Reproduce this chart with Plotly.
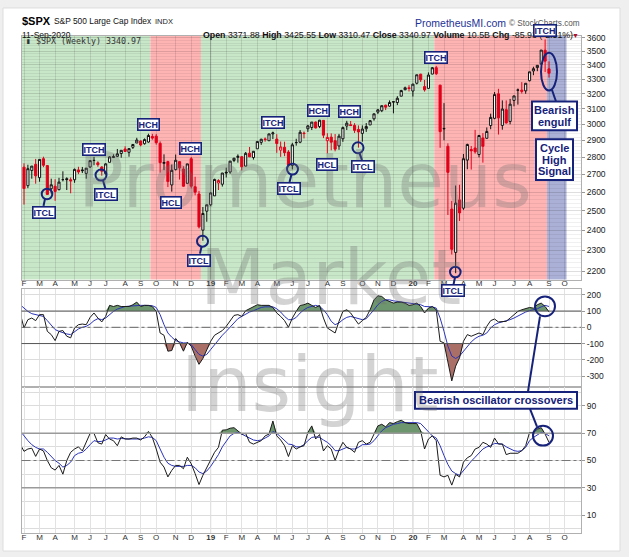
import math
import pandas as pd
import plotly.graph_objects as go

W, H = 629, 557


def px(x):
    return x / W


def py(y):
    return 1 - y / H


# ---------------- data ----------------
FIRST_WEEK = "2018-02-05"
N_BARS = 136
dates = pd.date_range(FIRST_WEEK, periods=N_BARS, freq="7D")
osc_dates = pd.date_range("2018-01-29", periods=N_BARS + 1, freq="7D")
PREV_CLOSE = 2762.13

opens = [2741, 2636, 2722, 2757, 2681, 2790, 2750, 2619, 2633, 2614,
         2670, 2675, 2669, 2669, 2725, 2725, 2705, 2742, 2780, 2766,
         2742, 2704, 2769, 2797, 2804, 2821, 2848, 2828, 2858, 2884,
         2896, 2880, 2890, 2924, 2926, 2882, 2763, 2773, 2640, 2727,
         2773, 2730, 2649, 2790, 2630, 2590, 2400, 2498, 2532, 2580,
         2651, 2644, 2712, 2713, 2780, 2798, 2802, 2747, 2823, 2797,
         2849, 2888, 2909, 2898, 2940, 2908, 2841, 2858, 2830, 2751,
         2886, 2889, 2945, 2972, 2980, 3014, 2986, 3025, 2898, 2920,
         2898, 2866, 2910, 2989, 2997, 2993, 2968, 2943, 2972, 2996,
         3035, 3078, 3087, 3123, 3117, 3144, 3141, 3183, 3227, 3240,
         3218, 3271, 3334, 3248, 3236, 3335, 3380, 3258, 2974, 2864,
         2509, 2290, 2558, 2514, 2782, 2845, 2854, 2815, 2915, 2913,
         2992, 3038, 3199, 2993, 3094, 3018, 3155, 3225, 3224, 3219,
         3289, 3357, 3381, 3406, 3507, 3371.88]
highs = [2763, 2755, 2747, 2789, 2787, 2802, 2753, 2675, 2672, 2680,
         2717, 2683, 2682, 2733, 2743, 2742, 2736, 2780, 2801, 2775,
         2746, 2764, 2804, 2816, 2848, 2841, 2864, 2853, 2876, 2916,
         2900, 2912, 2941, 2940, 2939, 2894, 2816, 2778, 2756, 2815,
         2775, 2746, 2760, 2800, 2686, 2607, 2520, 2532, 2598, 2675,
         2672, 2708, 2738, 2776, 2795, 2816, 2804, 2830, 2860, 2836,
         2893, 2910, 2918, 2940, 2954, 2938, 2893, 2892, 2841, 2885,
         2910, 2964, 2955, 2995, 3014, 3018, 3028, 3027, 2944, 2943,
         2939, 2940, 2986, 3022, 3021, 3007, 2993, 2993, 3008, 3027,
         3066, 3098, 3121, 3127, 3155, 3150, 3183, 3226, 3248, 3258,
         3267, 3330, 3337, 3294, 3347, 3385, 3393, 3260, 3137, 2882,
         2553, 2637, 2641, 2818, 2880, 2866, 2965, 2934, 2945, 2980,
         3068, 3211, 3233, 3155, 3155, 3165, 3186, 3235, 3279, 3272,
         3352, 3387, 3399, 3509, 3588, 3425.55]
lows = [2533, 2622, 2675, 2647, 2658, 2741, 2585, 2593, 2553, 2610,
        2660, 2612, 2594, 2652, 2701, 2707, 2675, 2736, 2752, 2743,
        2692, 2698, 2769, 2796, 2800, 2796, 2831, 2802, 2848, 2884,
        2864, 2874, 2886, 2904, 2874, 2710, 2724, 2628, 2603, 2722,
        2670, 2631, 2649, 2621, 2583, 2409, 2347, 2443, 2525, 2580,
        2612, 2631, 2682, 2703, 2770, 2767, 2722, 2746, 2800, 2785,
        2849, 2873, 2892, 2898, 2908, 2825, 2801, 2805, 2750, 2728,
        2868, 2883, 2912, 2952, 2964, 2974, 2976, 2914, 2822, 2840,
        2834, 2843, 2891, 2964, 2990, 2946, 2856, 2892, 2952, 2996,
        3023, 3066, 3078, 3091, 3113, 3070, 3124, 3183, 3223, 3215,
        3181, 3263, 3280, 3214, 3235, 3334, 3328, 2855, 2901, 2478,
        2280, 2192, 2447, 2505, 2729, 2727, 2820, 2798, 2767, 2910,
        2969, 3032, 2936, 2966, 3004, 3000, 3116, 3127, 3201, 3199,
        3284, 3327, 3355, 3405, 3349, 3310.47]
closes = [2620, 2732, 2747, 2691, 2786, 2752, 2588, 2641, 2604, 2656,
          2670, 2670, 2663, 2728, 2713, 2721, 2735, 2779, 2780, 2755,
          2718, 2760, 2801, 2802, 2819, 2840, 2833, 2850, 2875, 2902,
          2872, 2905, 2930, 2914, 2886, 2767, 2768, 2659, 2723, 2781,
          2736, 2633, 2760, 2633, 2600, 2417, 2486, 2532, 2596, 2671,
          2665, 2707, 2708, 2776, 2793, 2804, 2743, 2822, 2801, 2834,
          2893, 2907, 2905, 2940, 2946, 2881, 2860, 2826, 2752, 2873,
          2887, 2950, 2942, 2990, 3014, 2977, 3026, 2932, 2918, 2889,
          2847, 2926, 2979, 3007, 2992, 2962, 2952, 2970, 2986, 3023,
          3067, 3093, 3120, 3110, 3141, 3146, 3169, 3221, 3240, 3235,
          3265, 3330, 3295, 3226, 3328, 3380, 3338, 2954, 2972, 2711,
          2305, 2541, 2489, 2790, 2875, 2837, 2831, 2930, 2864, 2955,
          3044, 3194, 3041, 3098, 3009, 3130, 3185, 3224, 3216, 3271,
          3351, 3373, 3397, 3508, 3427, 3340.97]

# oscillator panel 1 (CCI-type) and its signal line, first value = week of 2018-01-29
cci = [88,
       -4, 47, 57, 41, 78, 78, -25, -45, -82, -25,
       -20, -55, -65, -4, 16, 20, 16, 61, 88, 57,
       33, 67, 135, 128, 135, 128, 128, 128, 139, 155,
       128, 135, 135, 128, 98, -35, -49, -147, -143, -69,
       -96, -147, -92, -116, -177, -228, -192, -137, -86, -49,
       -35, -20, 6, 41, 73, 78, 67, 102, 114, 128,
       139, 135, 135, 135, 122, 88, 67, 41, 0, 57,
       98, 135, 139, 149, 135, 122, 135, 57, -4, -20,
       -35, 37, 98, 108, 88, 53, 20, 41, 61, 108,
       169, 194, 190, 169, 159, 149, 155, 155, 149, 135,
       139, 149, 128, 88, 118, 128, 108, -86, -96, -208,
       -330, -239, -188, -86, -45, -55, -45, -35, -45, 6,
       41, 51, 33, 37, 37, 57, 78, 98, 108, 114,
       122, 118, 139, 149, 128, 94]
cci_signal = [139,
              118, 98, 84, 78, 73, 67, 41, 12, -14, -25,
              -35, -41, -45, -29, -10, 0, 6, 20, 41, 53,
              47, 57, 78, 98, 112, 122, 128, 130, 133, 135,
              135, 135, 135, 133, 122, 78, 16, -35, -61, -82,
              -90, -96, -96, -106, -137, -167, -177, -167, -137, -106,
              -75, -49, -25, 0, 27, 53, 67, 82, 94, 102,
              114, 122, 126, 128, 126, 114, 94, 67, 47, 47,
              61, 88, 108, 122, 130, 135, 128, 108, 78, 37,
              16, 27, 47, 61, 67, 61, 53, 47, 53, 78,
              108, 139, 159, 169, 169, 163, 159, 155, 153, 147,
              143, 143, 139, 128, 126, 126, 118, 57, -25, -116,
              -177, -192, -177, -147, -116, -90, -69, -55, -49, -35,
              -4, 16, 27, 33, 37, 47, 57, 71, 82, 94,
              102, 108, 114, 126, 135, 128]
# oscillator panel 2 (RSI-type) and its signal line
rsi = [62,
       56.7, 58.4, 59, 53, 58.4, 57, 50, 44.7, 43, 46.4,
       40, 50, 56, 58.4, 60, 57, 63, 69.8, 69.8, 63,
       62, 69, 65.7, 64.5, 60.8, 67.3, 65.7, 65.7, 66.4, 66.4,
       65, 67.3, 71.2, 66.9, 58.4, 48.8, 45.2, 38, 42.8, 46.4,
       46.4, 44, 52.4, 47.6, 40.4, 32.4, 39.2, 45.2, 50, 56,
       59.6, 72.2, 72.4, 73.6, 74, 71.7, 69.3, 69.8, 63.3, 62,
       63.3, 64.5, 68, 69.3, 78.9, 68, 65, 60.8, 52.9, 60.8,
       58.4, 60, 60.8, 70.5, 75.3, 65.7, 69, 57, 60.8, 58.4,
       50, 57.7, 63.3, 59.6, 58.4, 56, 63.3, 64.5, 62, 63.3,
       69.3, 75.3, 76.5, 74.6, 77.7, 77, 78.4, 79.4, 77.7, 77,
       77, 77, 71.7, 58.4, 65.7, 68, 64.5, 39.2, 38, 39.2,
       32, 39.9, 38, 48.8, 52, 53.6, 58.4, 59.6, 63.3, 62,
       59.6, 66.4, 62, 62, 54.3, 55.3, 55.3, 55.3, 57.2, 60.8,
       70.5, 70.5, 72.9, 74, 69.3, 63.3]
rsi_signal = [71.7,
              68, 64.5, 61.6, 59.6, 58.4, 58.4, 56, 52.9, 50, 48,
              45.2, 46.4, 48.8, 53.6, 55.3, 56, 58.4, 61.6, 64.5, 63.8,
              64, 65, 66.4, 66.4, 65.7, 66.1, 65.7, 65.7, 65.7, 65.7,
              65.7, 66.4, 67.3, 66.9, 64.5, 58.4, 52.4, 48, 46.4, 45.7,
              45.7, 45.7, 46.4, 46.4, 44.7, 41.6, 40.4, 42.3, 45.7, 50,
              54.3, 60, 64.5, 68, 69.8, 70.5, 69.3, 68, 66.4, 65,
              64.5, 65, 66.4, 68, 71.2, 69.8, 67.3, 64.5, 62, 61.6,
              60, 60, 61.6, 64.5, 66.9, 67.3, 66.9, 65, 63.3, 60.8,
              57.2, 57.2, 58.4, 59.6, 58.4, 58.4, 59.6, 61.6, 61.6, 62,
              64.5, 68, 71.7, 74, 75.3, 76.5, 77, 77.7, 77.7, 77.7,
              77.7, 77.7, 77, 74, 70.5, 68, 66.4, 60.8, 53.6, 47.1,
              42.3, 40.4, 39.2, 42.8, 46.4, 49.5, 52.4, 55.3, 58.4, 60,
              60.8, 62.5, 62.5, 62, 60, 58.4, 57.2, 56.7, 57.2, 59.6,
              64.5, 66.9, 68.8, 70.5, 69.8, 68]

month_ticks = ["2018-02-05", "2018-03-05", "2018-04-02", "2018-05-07", "2018-06-04",
               "2018-07-02", "2018-08-06", "2018-09-03", "2018-10-01", "2018-11-05",
               "2018-12-03", "2019-01-07", "2019-02-04", "2019-03-04", "2019-04-01",
               "2019-05-06", "2019-06-03", "2019-07-01", "2019-08-05", "2019-09-02",
               "2019-10-07", "2019-11-04", "2019-12-02", "2020-01-06", "2020-02-03",
               "2020-03-02", "2020-04-06", "2020-05-04", "2020-06-01", "2020-07-06",
               "2020-08-03", "2020-09-07", "2020-10-05"]
month_labels = ["F", "M", "A", "M", "J", "J", "A", "S", "O", "N", "D", "<b>19</b>",
                "F", "M", "A", "M", "J", "J", "A", "S", "O", "N", "D", "<b>20</b>",
                "F", "M", "A", "M", "J", "J", "A", "S", "O"]
year_ticks = ["2019-01-07", "2020-01-06"]
price_ticks = [2200, 2300, 2400, 2500, 2600, 2700, 2800, 2900, 3000,
               3100, 3200, 3300, 3400, 3500, 3600]
price_minor = [v for v in range(2160, 3640, 20) if v % 100]
cci_ticks = [-300, -200, -100, 0, 100, 200]
cci_labels = ["-300", "-200", "-100", "0", "100", "200"]
rsi_ticks = [10, 30, 50, 70, 90]
rsi_minor = [0, 20, 40, 60, 80, 100]

# cycle phase bands: (start, end, colour)
bands = [("2018-01-25", "2018-09-20 12:00", "rgb(200,230,200)"),
         ("2018-09-20 12:00", "2018-12-20 12:00", "rgb(255,180,180)"),
         ("2018-12-20 12:00", "2020-02-13 12:00", "rgb(200,230,200)"),
         ("2020-02-13 12:00", "2020-09-03 12:00", "rgb(255,180,180)"),
         ("2020-09-03 12:00", "2020-10-08 12:00", "rgb(170,176,214)")]

X_RANGE = ["2018-01-31 12:00", "2020-11-03 14:00"]

NAVY = "#16227a"
RED = "#e2001a"
GREEN_FILL = "rgb(110,150,110)"
BROWN_FILL = "rgb(170,112,104)"
FONT = "Liberation Sans"

# ---------------- figure ----------------
fig = go.Figure()

prev = [PREV_CLOSE] + closes[:-1]
groups = {"#111111": [i for i in range(N_BARS) if closes[i] >= prev[i]],
          RED: [i for i in range(N_BARS) if closes[i] < prev[i]]}
for col, idx in groups.items():
    fig.add_trace(go.Candlestick(
        x=[dates[i] for i in idx],
        open=[opens[i] for i in idx], high=[highs[i] for i in idx],
        low=[lows[i] for i in idx], close=[closes[i] for i in idx],
        increasing=dict(line=dict(color=col, width=1), fillcolor="white"),
        decreasing=dict(line=dict(color=col, width=1), fillcolor=col),
        whiskerwidth=0, xaxis="x", yaxis="y", showlegend=False, hoverinfo="skip"))


def fill_pair(level, vals, fn, color, xa, ya):
    fig.add_trace(go.Scatter(x=osc_dates, y=[level] * len(vals), mode="lines",
                             line=dict(width=0, color=color), xaxis=xa, yaxis=ya,
                             showlegend=False, hoverinfo="skip"))
    fig.add_trace(go.Scatter(x=osc_dates, y=[fn(v, level) for v in vals], mode="lines",
                             line=dict(width=0, color=color), fill="tonexty",
                             fillcolor=color, xaxis=xa, yaxis=ya,
                             showlegend=False, hoverinfo="skip"))


fill_pair(100, cci, max, GREEN_FILL, "x2", "y2")
fill_pair(-100, cci, min, BROWN_FILL, "x2", "y2")
fill_pair(70, rsi, max, GREEN_FILL, "x3", "y3")

for xa, ya, sig, main in (("x2", "y2", cci_signal, cci), ("x3", "y3", rsi_signal, rsi)):
    fig.add_trace(go.Scatter(x=osc_dates, y=sig, mode="lines",
                             line=dict(color="#2b33b8", width=1), xaxis=xa, yaxis=ya,
                             showlegend=False, hoverinfo="skip"))
    fig.add_trace(go.Scatter(x=osc_dates, y=main, mode="lines",
                             line=dict(color="#1a1a1a", width=1), xaxis=xa, yaxis=ya,
                             showlegend=False, hoverinfo="skip"))

XL, XR = 21.5, 581
xdom = [px(XL), px(XR)]
tickfont = dict(family=FONT, size=8, color="#333")


def xaxis(anchor, labels, grid):
    d = dict(domain=xdom, anchor=anchor, type="date", range=X_RANGE,
             tickmode="array", tickvals=month_ticks, ticktext=month_labels,
             showticklabels=labels, ticks="", showgrid=True, gridcolor=grid,
             gridwidth=1, showline=True, linecolor="#b0b0b0", mirror=True,
             zeroline=False, tickfont=tickfont, rangeslider=dict(visible=False),
             ticklabelstandoff=-4, fixedrange=True)
    return d


yfont = dict(family=FONT, size=8.5, color="#222")
fig.update_layout(
    width=W, height=H, autosize=False,
    margin=dict(l=0, r=0, t=0, b=0),
    paper_bgcolor="#efefef", plot_bgcolor="white",
    boxgap=0.22, showlegend=False,
    xaxis=xaxis("y", True, "rgba(0,0,0,0.10)"),
    xaxis2=dict(xaxis("y2", False, "#e2e2e2"), matches="x"),
    xaxis3=dict(xaxis("y3", True, "#e2e2e2"), matches="x"),
    yaxis=dict(domain=[py(278), py(33)], anchor="x", side="right", type="log",
               range=[math.log10(2163), math.log10(3615)],
               tickmode="array", tickvals=price_ticks,
               ticktext=[str(v) for v in price_ticks],
               ticks="outside", ticklen=3, tickcolor="#999",
               showgrid=True, gridcolor="rgba(0,0,0,0.13)",
               minor=dict(tickvals=price_minor, showgrid=True,
                          gridcolor="rgba(0,0,0,0.06)", ticks=""),
               showline=True, linecolor="#b0b0b0", mirror=True, zeroline=False,
               tickfont=yfont, fixedrange=True),
    yaxis2=dict(domain=[py(386), py(288)], anchor="x2", side="right",
                range=[-367, 233], tickmode="array", tickvals=cci_ticks,
                ticktext=cci_labels,
                ticks="outside", ticklen=3, tickcolor="#999",
                showgrid=True, gridcolor="#dcdcdc",
                showline=True, linecolor="#b0b0b0", mirror=True, zeroline=False,
                tickfont=yfont, fixedrange=True),
    yaxis3=dict(domain=[py(533), py(386)], anchor="x3", side="right",
                range=[-3.1, 103.8], tickmode="array", tickvals=rsi_ticks,
                ticks="outside", ticklen=3, tickcolor="#999",
                showgrid=True, gridcolor="#dcdcdc",
                minor=dict(tickvals=rsi_minor, showgrid=True, gridcolor="#dcdcdc", ticks=""),
                showline=True, linecolor="#b0b0b0", mirror=True, zeroline=False,
                tickfont=yfont, fixedrange=True),
)

shapes = []
# white chart card
shapes.append(dict(type="rect", xref="paper", yref="paper", x0=px(3), x1=px(620),
                   y0=py(551), y1=py(5), fillcolor="white",
                   line=dict(color="#dddddd", width=1), layer="below"))
for x0, x1, col in bands:
    shapes.append(dict(type="rect", xref="x", yref="y domain", x0=x0, x1=x1, y0=0, y1=1,
                       fillcolor=col, line=dict(width=0), layer="below"))
for yr in year_ticks:
    for ya in ("y", "y2", "y3"):
        shapes.append(dict(type="line", xref="x", yref=ya + " domain", x0=yr, x1=yr,
                           y0=0, y1=1, line=dict(color="rgba(0,0,0,0.22)", width=1),
                           layer="below"))
# oscillator reference levels
for lvl, dash, col in ((100, "solid", "#555"), (-100, "solid", "#555"), (0, "dashdot", "#666")):
    shapes.append(dict(type="line", xref="x2 domain", yref="y2", x0=0, x1=1, y0=lvl, y1=lvl,
                       line=dict(color=col, width=1, dash=dash)))
for lvl, dash, col, w in ((70, "solid", "#9a9a9a", 1.5), (30, "solid", "#9a9a9a", 1.5),
                          (50, "dashdot", "#777", 1)):
    shapes.append(dict(type="line", xref="x3 domain", yref="y3", x0=0, x1=1, y0=lvl, y1=lvl,
                       line=dict(color=col, width=w, dash=dash)))


def circle(cx, cy, rx, ry=None):
    ry = rx if ry is None else ry
    shapes.append(dict(type="circle", xref="paper", yref="paper",
                       x0=px(cx - rx), x1=px(cx + rx), y0=py(cy + ry), y1=py(cy - ry),
                       line=dict(color=NAVY, width=2)))


def link(x0, y0, x1, y1):
    shapes.append(dict(type="line", xref="paper", yref="paper",
                       x0=px(x0), x1=px(x1), y0=py(y0), y1=py(y1),
                       line=dict(color=NAVY, width=2)))


def rect(x0, y0, x1, y1):
    shapes.append(dict(type="rect", xref="paper", yref="paper",
                       x0=px(x0), x1=px(x1), y0=py(y1), y1=py(y0), fillcolor="white",
                       line=dict(color=NAVY, width=2)))


circle(47, 192, 5.3); link(45, 197, 43.5, 204)
circle(101, 173, 5.5); link(103, 178.5, 105.5, 187)
circle(202.5, 239.5, 5.5); link(201.5, 245, 200, 252)
circle(292.5, 167, 5.5); link(291.5, 172.5, 289.5, 180)
circle(358, 145.5, 5.5); link(359.5, 151, 362, 158)
circle(455.3, 270.5, 5.3); link(455, 276, 453.5, 283)
circle(549, 69, 8, 19); link(552, 87.5, 556, 99)
circle(545, 305, 10); link(540, 315, 528, 390.5)
circle(543, 435, 10); link(530, 408, 537, 426)
rect(532, 99, 577, 128)
rect(536, 137, 573, 178)
rect(415, 391, 577, 408)

annotations = []


def text(x, y, s, size, color="#111", anchor="left", family=FONT, **kw):
    annotations.append(dict(xref="paper", yref="paper", x=px(x), y=py(y), text=s,
                            showarrow=False, xanchor=anchor, yanchor="middle",
                            font=dict(family=family, size=size, color=color), **kw))


# watermark
for s, cx, cy in (("Prometheus", 305, 178), ("Market", 330, 276), ("Insight", 310, 384)):
    text(cx, cy, s, 76, color="rgba(110,110,110,0.30)", anchor="center", family="DejaVu Sans")

# header
text(19.5, 18.5, "<b>$SPX</b>", 11, color="#000")
text(52, 18.5, "S&P 500 Large Cap Index", 8.4, color="#111")
text(152.5, 18.5, "INDX", 7.5, color="#222")
text(20, 32.5, "11-Sep-2020", 8.5, color="#111")
text(201, 32.5, "<b>Open</b> 3371.88 <b>High</b> 3425.55 <b>Low</b> 3310.47 "
     "<b>Close</b> 3340.97 <b>Volume</b> 10.5B <b>Chg</b> -85.93 (-2.51%)", 8.8, color="#111")
text(575, 32.5, "▼", 7, color="#b0102a", anchor="center")
text(460, 20.5, "PrometheusMI.com", 10.5, color="#1d3296", anchor="center")
text(544, 20.5, "© StockCharts.com", 8.2, color="#555", anchor="center")
text(24, 38.5, "▮ $SPX (Weekly) 3340.97", 8.3, color="#333", family="DejaVu Sans Mono")


def tag(cx, cy, s, size=9):
    annotations.append(dict(xref="paper", yref="paper", x=px(cx), y=py(cy),
                            text="<b>%s</b>" % s, showarrow=False,
                            xanchor="center", yanchor="middle",
                            font=dict(family=FONT, size=size, color=NAVY),
                            bgcolor="white", bordercolor=NAVY, borderwidth=1.6,
                            borderpad=0))


tag(44, 210.5, "ITCL")
tag(93.5, 147.5, "ITCH")
tag(105.5, 192.5, "ITCL")
tag(148.5, 122.5, "HCH")
tag(191, 146.5, "HCH")
tag(170.5, 200.5, "HCL")
tag(199, 258.5, "ITCL")
tag(272.5, 120.5, "ITCH")
tag(288.5, 186.5, "ITCL")
tag(318, 108, "HCH")
tag(350, 109, "HCH")
tag(327, 162.5, "HCL")
tag(362.5, 164, "ITCL")
tag(436, 55, "ITCH")
tag(452.5, 289, "ITCL")
tag(544.5, 27.5, "ITCH")

text(554.5, 107.5, "<b>Bearish</b>", 11, color=NAVY, anchor="center")
text(554.5, 119.5, "<b>engulf</b>", 11, color=NAVY, anchor="center")
text(554.5, 146, "<b>Cycle</b>", 11, color=NAVY, anchor="center")
text(554.5, 157.5, "<b>High</b>", 11, color=NAVY, anchor="center")
text(554.5, 169, "<b>Signal</b>", 11, color=NAVY, anchor="center")
text(496, 399.5, "<b>Bearish oscillator crossovers</b>", 11, color=NAVY, anchor="center")

fig.update_layout(shapes=shapes, annotations=annotations)
fig.write_html("out.html", config={"displayModeBar": False, "staticPlot": True},
               post_script="document.body.style.margin='0px';")
